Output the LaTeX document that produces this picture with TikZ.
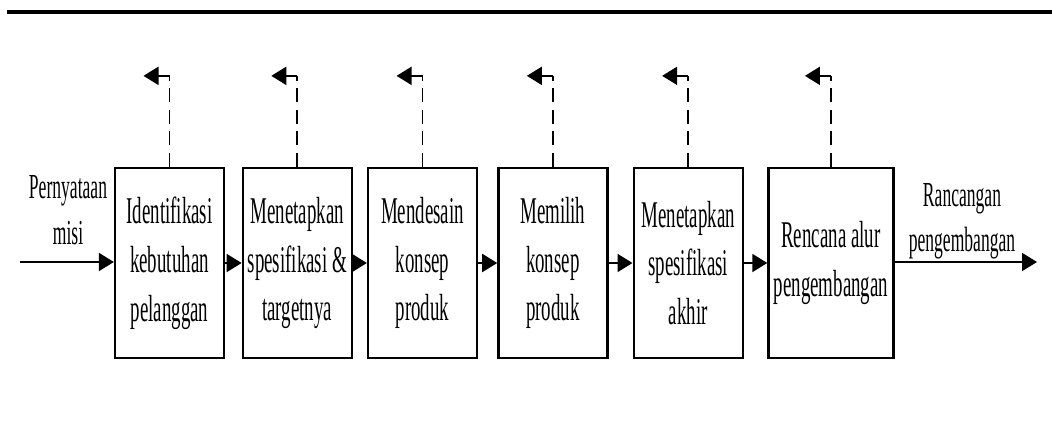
\documentclass[tikz,border=0pt]{standalone}
\usepackage{fontspec}
\setmainfont{Liberation Serif}[FakeStretch=0.5]
\usepackage{tikz}
\usetikzlibrary{arrows.meta, positioning}
\tikzstyle{stage} = [rectangle, draw, line width=1.3pt, minimum width=2.18cm, minimum height=3.8cm, align=center, inner sep=1pt, font=\fontsize{21.5}{27.8}\selectfont]
\tikzstyle{label} = [align=center, inner sep=1pt, font=\fontsize{20}{25.8}\selectfont]
\tikzstyle{arrow} = [line width=1.1pt, -{Triangle[length=0.3cm, width=0.36cm]}]
\tikzstyle{feedback} = [line width=0.9pt, dash pattern=on 0.28cm off 0.15cm]

\begin{document}
\begin{tikzpicture}
        \useasboundingbox (0,0) rectangle (21.04,-8.86);
        % garis atas
        \draw [line width=2.3pt] (0.14,-0.24) -- (21.04,-0.24);

        % Tahapan
        \node (box1) [stage] at (3.39,-5.26) {Identifikasi\\kebutuhan\\pelanggan};
        \node (box2) [stage, right=0.33cm of box1] {Menetapkan\\spesifikasi \&\\targetnya};
        \node (box3) [stage, right=0.28cm of box2] {Mendesain\\konsep\\produk};
        \node (box4) [stage, right=0.38cm of box3] {Memilih\\konsep\\produk};
        \node (box5) [stage, right=0.48cm of box4] {Menetapkan\\spesifikasi\\akhir};
        \node (box6) [stage, right=0.47cm of box5, minimum width=2.5cm] {Rencana alur\\pengembangan};

        % Masukan dan keluaran
        \coordinate (in) at (0.4,-5.24);
        \coordinate (out) at (20.74,-5.24);
        \node (misi) [label] at (1.36,-4.2) {Pernyataan\\misi};
        \node (rancangan) [label] at (19.24,-4.42) {Rancangan\\pengembangan};

        % Umpan balik
        \coordinate [above=1.82cm of box1] (k1);
        \coordinate [above=1.82cm of box2] (k2);
        \coordinate [above=1.82cm of box3] (k3);
        \coordinate [above=1.82cm of box4] (k4);
        \coordinate [above=1.82cm of box5] (k5);
        \coordinate [above=1.82cm of box6] (k6);
        \coordinate [left=0.52cm of k1] (t1);
        \coordinate [left=0.52cm of k2] (t2);
        \coordinate [left=0.52cm of k3] (t3);
        \coordinate [left=0.52cm of k4] (t4);
        \coordinate [left=0.52cm of k5] (t5);
        \coordinate [left=0.52cm of k6] (t6);

        % Arrows
        \draw [arrow] (in) -- (in -| box1.west);
        \draw [arrow] (box1) -- (box2);
        \draw [arrow] (box2) -- (box3);
        \draw [arrow] (box3) -- (box4);
        \draw [arrow] (box4) -- (box5);
        \draw [arrow] (box5) -- (box6);
        \draw [arrow] (out -| box6.east) -- (out);

        \draw [feedback] (box1) -- (k1);
        \draw [feedback] (box2) -- (k2);
        \draw [feedback] (box3) -- (k3);
        \draw [feedback] (box4) -- (k4);
        \draw [feedback] (box5) -- (k5);
        \draw [feedback] (box6) -- (k6);
        \draw [arrow] (k1) -- (t1);
        \draw [arrow] (k2) -- (t2);
        \draw [arrow] (k3) -- (t3);
        \draw [arrow] (k4) -- (t4);
        \draw [arrow] (k5) -- (t5);
        \draw [arrow] (k6) -- (t6);
\end{tikzpicture}
\end{document}
